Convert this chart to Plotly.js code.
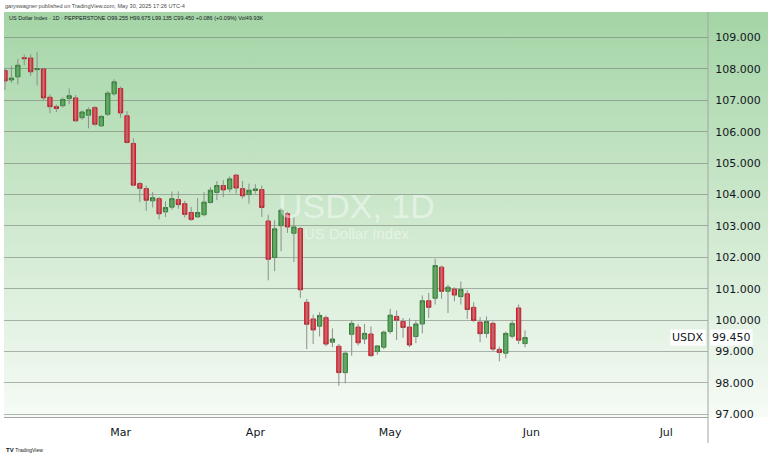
<!DOCTYPE html>
<html>
<head>
<meta charset="utf-8">
<script src="https://cdn.plot.ly/plotly-3.0.1.min.js"></script>
<style>
  html, body { margin:0; padding:0; background:#ffffff; }
  #wrap { position:relative; width:768px; height:458px; overflow:hidden; background:#ffffff; }
  #bg { position:absolute; left:4px; top:12px; width:764px; height:405px;
        background:linear-gradient(180deg, rgb(164,213,166) 0%, rgb(205,232,205) 50%, rgb(246,251,246) 100%); }
  #chart { position:absolute; left:0; top:0; width:768px; height:458px; }
</style>
</head>
<body>
<div id="wrap"><div id="bg"></div><div id="chart"></div></div>
<script>
// ---- data (daily OHLC, US Dollar Index, Pepperstone) ----
const dates = [
  '2025-02-05','2025-02-06','2025-02-07','2025-02-10','2025-02-11','2025-02-12','2025-02-13','2025-02-14',
  '2025-02-17','2025-02-18','2025-02-19','2025-02-20','2025-02-21','2025-02-24','2025-02-25','2025-02-26',
  '2025-02-27','2025-02-28',
  '2025-03-03','2025-03-04','2025-03-05','2025-03-06','2025-03-07','2025-03-10','2025-03-11','2025-03-12',
  '2025-03-13','2025-03-14','2025-03-17','2025-03-18','2025-03-19','2025-03-20','2025-03-21','2025-03-24',
  '2025-03-25','2025-03-26','2025-03-27','2025-03-28','2025-03-31',
  '2025-04-01','2025-04-02','2025-04-03','2025-04-04','2025-04-07','2025-04-08','2025-04-09','2025-04-10',
  '2025-04-11','2025-04-14','2025-04-15','2025-04-16','2025-04-17','2025-04-21','2025-04-22','2025-04-23',
  '2025-04-24','2025-04-25','2025-04-28','2025-04-29','2025-04-30',
  '2025-05-01','2025-05-02','2025-05-05','2025-05-06','2025-05-07','2025-05-08','2025-05-09','2025-05-12',
  '2025-05-13','2025-05-14','2025-05-15','2025-05-16','2025-05-19','2025-05-20','2025-05-21','2025-05-22',
  '2025-05-23','2025-05-26','2025-05-27','2025-05-28','2025-05-29','2025-05-30'
];
const openP = [
  107.95,107.65,107.75,108.36,108.35,107.98,108.00,107.10,106.80,106.83,107.06,107.08,106.45,106.53,106.77,106.19,106.56,107.21,
  107.38,106.51,105.63,104.35,104.19,103.80,103.87,103.45,103.60,103.84,103.71,103.43,103.29,103.36,103.75,104.07,104.29,104.18,104.62,104.19,104.00,
  104.13,104.16,103.16,102.00,103.01,103.39,102.77,102.92,100.57,100.04,99.81,100.08,99.30,99.17,98.33,99.55,99.78,99.40,99.56,99.00,99.14,
  99.64,100.12,99.96,99.78,99.48,99.88,100.62,100.70,101.69,100.92,100.99,100.75,100.84,100.41,99.94,99.58,99.90,99.07,98.95,99.49,100.39,99.255
];
const highP = [
  108.00,108.10,108.32,108.46,108.47,108.55,108.03,107.19,106.87,107.10,107.38,107.17,106.68,106.78,106.82,106.53,107.30,107.67,
  107.44,106.66,105.79,104.40,104.28,104.08,103.92,103.79,104.10,104.10,103.80,103.61,103.89,104.08,104.24,104.43,104.46,104.58,104.65,104.43,104.35,
  104.33,104.29,103.36,103.18,103.57,103.45,103.29,102.97,100.68,100.18,100.25,100.15,99.74,99.24,99.03,99.99,99.88,99.88,99.80,99.21,99.67,
  100.36,100.31,100.07,100.06,99.99,100.79,100.87,101.96,101.74,101.13,101.05,101.23,100.95,100.57,100.10,100.12,99.96,99.16,99.64,99.99,100.50,99.675
];
const lowP = [
  107.33,107.56,107.51,108.12,107.78,107.47,107.00,106.59,106.63,106.77,106.88,106.33,106.38,106.11,106.19,106.16,106.50,107.15,
  106.45,105.63,104.27,103.76,103.48,103.59,103.21,103.29,103.52,103.55,103.27,103.16,103.27,103.31,103.71,103.82,103.92,104.07,104.03,103.87,103.71,
  104.03,103.29,101.27,101.56,102.20,102.78,101.85,100.71,99.08,99.24,99.48,99.17,99.14,97.91,97.99,98.87,99.19,99.24,98.84,98.90,99.08,
  99.56,99.37,99.44,99.14,99.27,99.58,100.07,100.50,100.68,100.23,100.60,100.50,100.04,99.94,99.30,99.44,99.01,98.69,98.79,99.42,99.24,99.135
];
const closeP = [
  107.62,107.71,108.12,108.33,107.91,108.01,107.08,106.80,106.74,107.03,107.15,106.35,106.63,106.70,106.24,106.49,107.23,107.59,
  106.60,105.66,104.30,104.20,103.82,103.90,103.39,103.59,103.87,103.68,103.37,103.21,103.43,103.76,104.14,104.29,104.15,104.50,104.21,103.96,104.14,
  104.18,103.59,101.94,102.91,103.50,102.97,102.97,100.97,99.87,99.69,100.15,99.24,99.40,98.33,98.95,99.90,99.28,99.58,98.87,99.18,99.62,
  100.16,100.00,99.77,99.21,99.88,100.62,100.41,101.74,100.92,101.05,100.80,100.98,100.34,99.99,99.57,99.96,99.08,98.97,99.58,99.90,99.364,99.450
];
const monthTickDates = ['2025-03-03','2025-04-01','2025-05-01','2025-06-02','2025-07-01'];
const monthTickLabels = ['Mar','Apr','May','Jun','Jul'];
const priceTicks = [97,98,99,100,101,102,103,104,105,106,107,108,109];
const holidayBreaks = ['2025-04-18'];
const symbolName = 'USDX';
const lastPrice = 99.450;
const headerText = 'US Dollar Index · 1D · PEPPERSTONE O99.255 H99.675 L99.135 C99.450 +0.086 (+0.09%) Vol49.93K';
const publishText = 'garyswagner published on TradingView.com, May 30, 2025 17:26 UTC-4';

// body-only arrays for the candle bodies (wicks drawn by the ohlc trace)
const bodyHigh = openP.map((o,i)=>Math.max(o, closeP[i]));
const bodyLow  = openP.map((o,i)=>Math.min(o, closeP[i]));

const wickTrace = {
  type:'ohlc', x:dates, open:openP, high:highP, low:lowP, close:closeP,
  tickwidth:0, hoverinfo:'skip', showlegend:false,
  increasing:{line:{color:'#8d8f8d', width:1}},
  decreasing:{line:{color:'#8d8f8d', width:1}}
};
const bodyTrace = {
  type:'candlestick', x:dates, open:openP, high:bodyHigh, low:bodyLow, close:closeP,
  whiskerwidth:0, hoverinfo:'skip', showlegend:false,
  increasing:{fillcolor:'#4caf50', line:{color:'#2f7d33', width:1}},
  decreasing:{fillcolor:'#f23645', line:{color:'#b8232f', width:1}}
};

const tickFont = {family:'DejaVu Sans, Verdana, sans-serif', size:11, color:'#131722'};

const layout = {
  width:768, height:458, autosize:false,
  margin:{l:4, r:60, t:12, b:41, pad:0},
  paper_bgcolor:'rgba(0,0,0,0)', plot_bgcolor:'rgba(0,0,0,0)',
  showlegend:false,
  boxgap:0.05, boxgroupgap:0.3,
  xaxis:{
    type:'date',
    range:['2025-02-04 20:15','2025-07-09 12:00'],
    rangebreaks:[{bounds:['sat','mon']},{values:holidayBreaks}],
    rangeslider:{visible:false},
    tickmode:'array', tickvals:monthTickDates, ticktext:monthTickLabels,
    showgrid:false, zeroline:false,
    showline:true, linecolor:'#a3a6a3', linewidth:1,
    ticks:'outside', ticklen:5, tickcolor:'rgba(0,0,0,0)',
    tickfont:{family:'DejaVu Sans, Verdana, sans-serif', size:11, color:'#131722'},
    fixedrange:true
  },
  yaxis:{
    side:'right',
    range:[96.917, 109.815],
    tickmode:'array', tickvals:priceTicks, tickformat:'.3f',
    showgrid:true, gridcolor:'rgba(105,110,105,0.5)', gridwidth:1,
    zeroline:false, showline:false,
    ticks:'outside', ticklen:4, tickcolor:'rgba(0,0,0,0)',
    tickfont:tickFont,
    fixedrange:true
  },
  shapes:[
    {type:'line', xref:'paper', yref:'paper', x0:1, x1:1, y0:-0.064, y1:1,
     line:{color:'#a3a6a3', width:1}}
  ],
  annotations:[
    {xref:'paper', yref:'paper', x:-0.001, y:1.0148, xanchor:'left', yanchor:'middle',
     text:publishText, showarrow:false,
     font:{family:'Liberation Sans, Arial, sans-serif', size:5.6, color:'#4a4a4a'}},
    {xref:'paper', yref:'paper', x:0.0043, y:0.9855, xanchor:'left', yanchor:'middle',
     text:headerText, showarrow:false,
     font:{family:'Liberation Sans, Arial, sans-serif', size:5.5, color:'#131722'}},
    {xref:'paper', yref:'paper', x:0.5012, y:0.5222, xanchor:'center', yanchor:'middle',
     text:symbolName + ', 1D', showarrow:false,
     font:{family:'Liberation Sans, Arial, sans-serif', size:34, color:'rgba(255,255,255,0.45)'}},
    {xref:'paper', yref:'paper', x:0.5012, y:0.454, xanchor:'center', yanchor:'middle',
     text:'US Dollar Index', showarrow:false,
     font:{family:'Liberation Sans, Arial, sans-serif', size:15, color:'rgba(255,255,255,0.45)'}},
    {xref:'paper', yref:'y', x:0.9972, y:lastPrice, xanchor:'right', yanchor:'middle',
     text:symbolName, showarrow:false, bgcolor:'#ffffff', borderpad:1,
     font:tickFont},
    {xref:'paper', yref:'y', x:1.0035, y:lastPrice, xanchor:'left', yanchor:'middle',
     text:lastPrice.toFixed(3), showarrow:false, bgcolor:'#ffffff', borderpad:1,
     font:tickFont},
    {xref:'paper', yref:'paper', x:0.0, y:-0.0815, xanchor:'left', yanchor:'middle',
     text:'<b>TV</b> <span style="font-size:5px">TradingView</span>', showarrow:false,
     font:{family:'Liberation Sans, Arial, sans-serif', size:6, color:'#131722'}}
  ]
};

Plotly.newPlot('chart', [wickTrace, bodyTrace], layout, {displayModeBar:false, staticPlot:true});
</script>
</body>
</html>
